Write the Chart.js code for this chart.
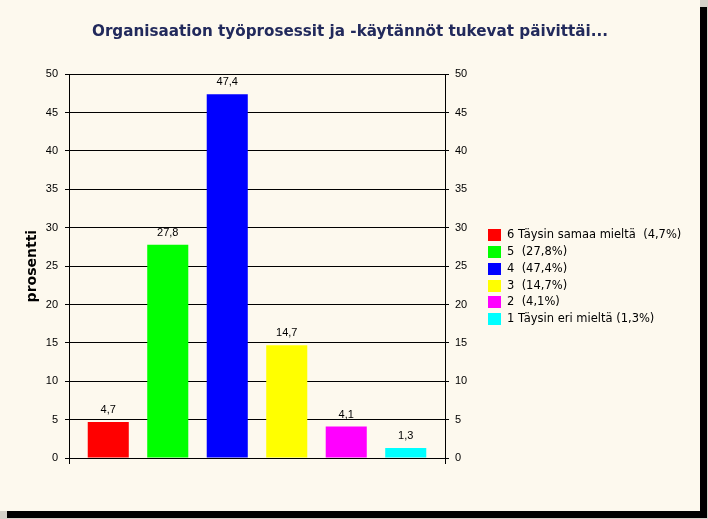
<!DOCTYPE html>
<html>
<head>
<meta charset="utf-8">
<script src="https://cdn.jsdelivr.net/npm/chart.js@4"></script>
<style>
  html, body { margin: 0; padding: 0; background: #d4d0c8; width: 708px; height: 519px; overflow: hidden; }
  #card { position: absolute; left: 0; top: 0; width: 700px; height: 511px; background: #fdf9ee; box-shadow: 7px 7px 0 #000; }
  canvas { display: block; }
</style>
</head>
<body>
<div id="card"><canvas id="c" width="700" height="511"></canvas></div>
<script>
const titleText = "Organisaation työprosessit ja -käytännöt tukevat päivittäi...";
const categories = ["6 Täysin samaa mieltä", "5", "4", "3", "2", "1 Täysin eri mieltä"];
const legendLabels = ["6 Täysin samaa mieltä  (4,7%)", "5  (27,8%)", "4  (47,4%)", "3  (14,7%)", "2  (4,1%)", "1 Täysin eri mieltä (1,3%)"];
const values = [4.7, 27.8, 47.4, 14.7, 4.1, 1.3];
const barColors = ["#ff0000", "#00ff00", "#0000ff", "#ffff00", "#ff00ff", "#00ffff"];
const yTicks = [0, 5, 10, 15, 20, 25, 30, 35, 40, 45, 50];
const yAxisTitle = "prosentti";

const fmt = v => String(v).replace('.', ',');
const xMin = -0.66, xMax = categories.length - 1 + 0.66;

const valueLabels = {
  id: 'valueLabels',
  afterDatasetsDraw(chart) {
    const ctx = chart.ctx;
    const meta = chart.getDatasetMeta(0);
    ctx.save();
    ctx.font = '11px "Liberation Sans", Arial, sans-serif';
    ctx.fillStyle = '#000';
    ctx.textAlign = 'center';
    ctx.textBaseline = 'alphabetic';
    meta.data.forEach((bar, i) => {
      ctx.fillText(fmt(values[i]), bar.x, bar.y - 9);
    });
    ctx.restore();
  }
};

// Legend drawn beside the right axis (Chart.js caps a right legend's width too narrow for these labels)
const sideLegend = {
  id: 'sideLegend',
  afterDraw(chart) {
    const ctx = chart.ctx;
    const x0 = chart.chartArea.right + 43;
    const top = chart.chartArea.top + 155;
    const rowH = 16.8, boxW = 13, boxH = 12;
    ctx.save();
    ctx.font = '11.5px "DejaVu Sans", Verdana, sans-serif';
    ctx.textBaseline = 'middle';
    ctx.textAlign = 'left';
    legendLabels.forEach((t, i) => {
      const y = Math.round(top + i * rowH);
      ctx.fillStyle = barColors[i];
      ctx.fillRect(x0, y, boxW, boxH);
      ctx.fillStyle = '#000';
      ctx.fillText(t, x0 + boxW + 6, y + boxH / 2 + 0.5);
    });
    ctx.restore();
  }
};

new Chart(document.getElementById('c'), {
  type: 'bar',
  data: {
    datasets: [{
      data: values.map((v, i) => ({ x: i, y: v })),
      backgroundColor: barColors,
      borderWidth: 0,
      barPercentage: 0.69,
      categoryPercentage: 1.0,
      yAxisID: 'y'
    }]
  },
  options: {
    responsive: false,
    animation: false,
    devicePixelRatio: 1,
    layout: { padding: { left: 0, right: 0, top: 0, bottom: 47 } },
    plugins: {
      title: {
        display: true,
        text: titleText,
        color: '#222a5c',
        font: { family: '"DejaVu Sans", Verdana, sans-serif', size: 15.2, weight: 'bold' },
        padding: { top: 23, bottom: 33 }
      },
      legend: { display: false },
      tooltip: { enabled: false }
    },
    scales: {
      x: {
        type: 'linear',
        min: xMin, max: xMax,
        offset: false,
        afterBuildTicks: axis => { axis.ticks = [{ value: xMin }, { value: xMax }]; },
        ticks: { display: false },
        grid: { display: true, offset: false, drawOnChartArea: false, tickLength: 6, color: '#000' },
        border: { display: true, color: '#000', width: 1 }
      },
      y: {
        position: 'left',
        min: 0, max: 50,
        afterBuildTicks: axis => { axis.ticks = yTicks.map(v => ({ value: v })); },
        afterFit: axis => { axis.width = 69; },
        ticks: {
          color: '#000', padding: 7,
          font: { family: '"Liberation Sans", Arial, sans-serif', size: 11 }
        },
        grid: { color: '#000', lineWidth: 1, tickLength: 4 },
        border: { display: true, color: '#000', width: 1 },
        title: {
          display: true, text: yAxisTitle, color: '#000',
          font: { family: '"DejaVu Sans", Verdana, sans-serif', size: 14, weight: 'bold' },
          padding: { top: 24, bottom: 4 }
        }
      },
      y2: {
        position: 'right',
        min: 0, max: 50,
        afterBuildTicks: axis => { axis.ticks = yTicks.map(v => ({ value: v })); },
        afterFit: axis => { axis.width = 255; },
        ticks: {
          color: '#000', padding: 6,
          font: { family: '"Liberation Sans", Arial, sans-serif', size: 11 }
        },
        grid: { drawOnChartArea: false, color: '#000', tickLength: 4 },
        border: { display: true, color: '#000', width: 1 }
      }
    }
  },
  plugins: [valueLabels, sideLegend]
});
</script>
</body>
</html>
